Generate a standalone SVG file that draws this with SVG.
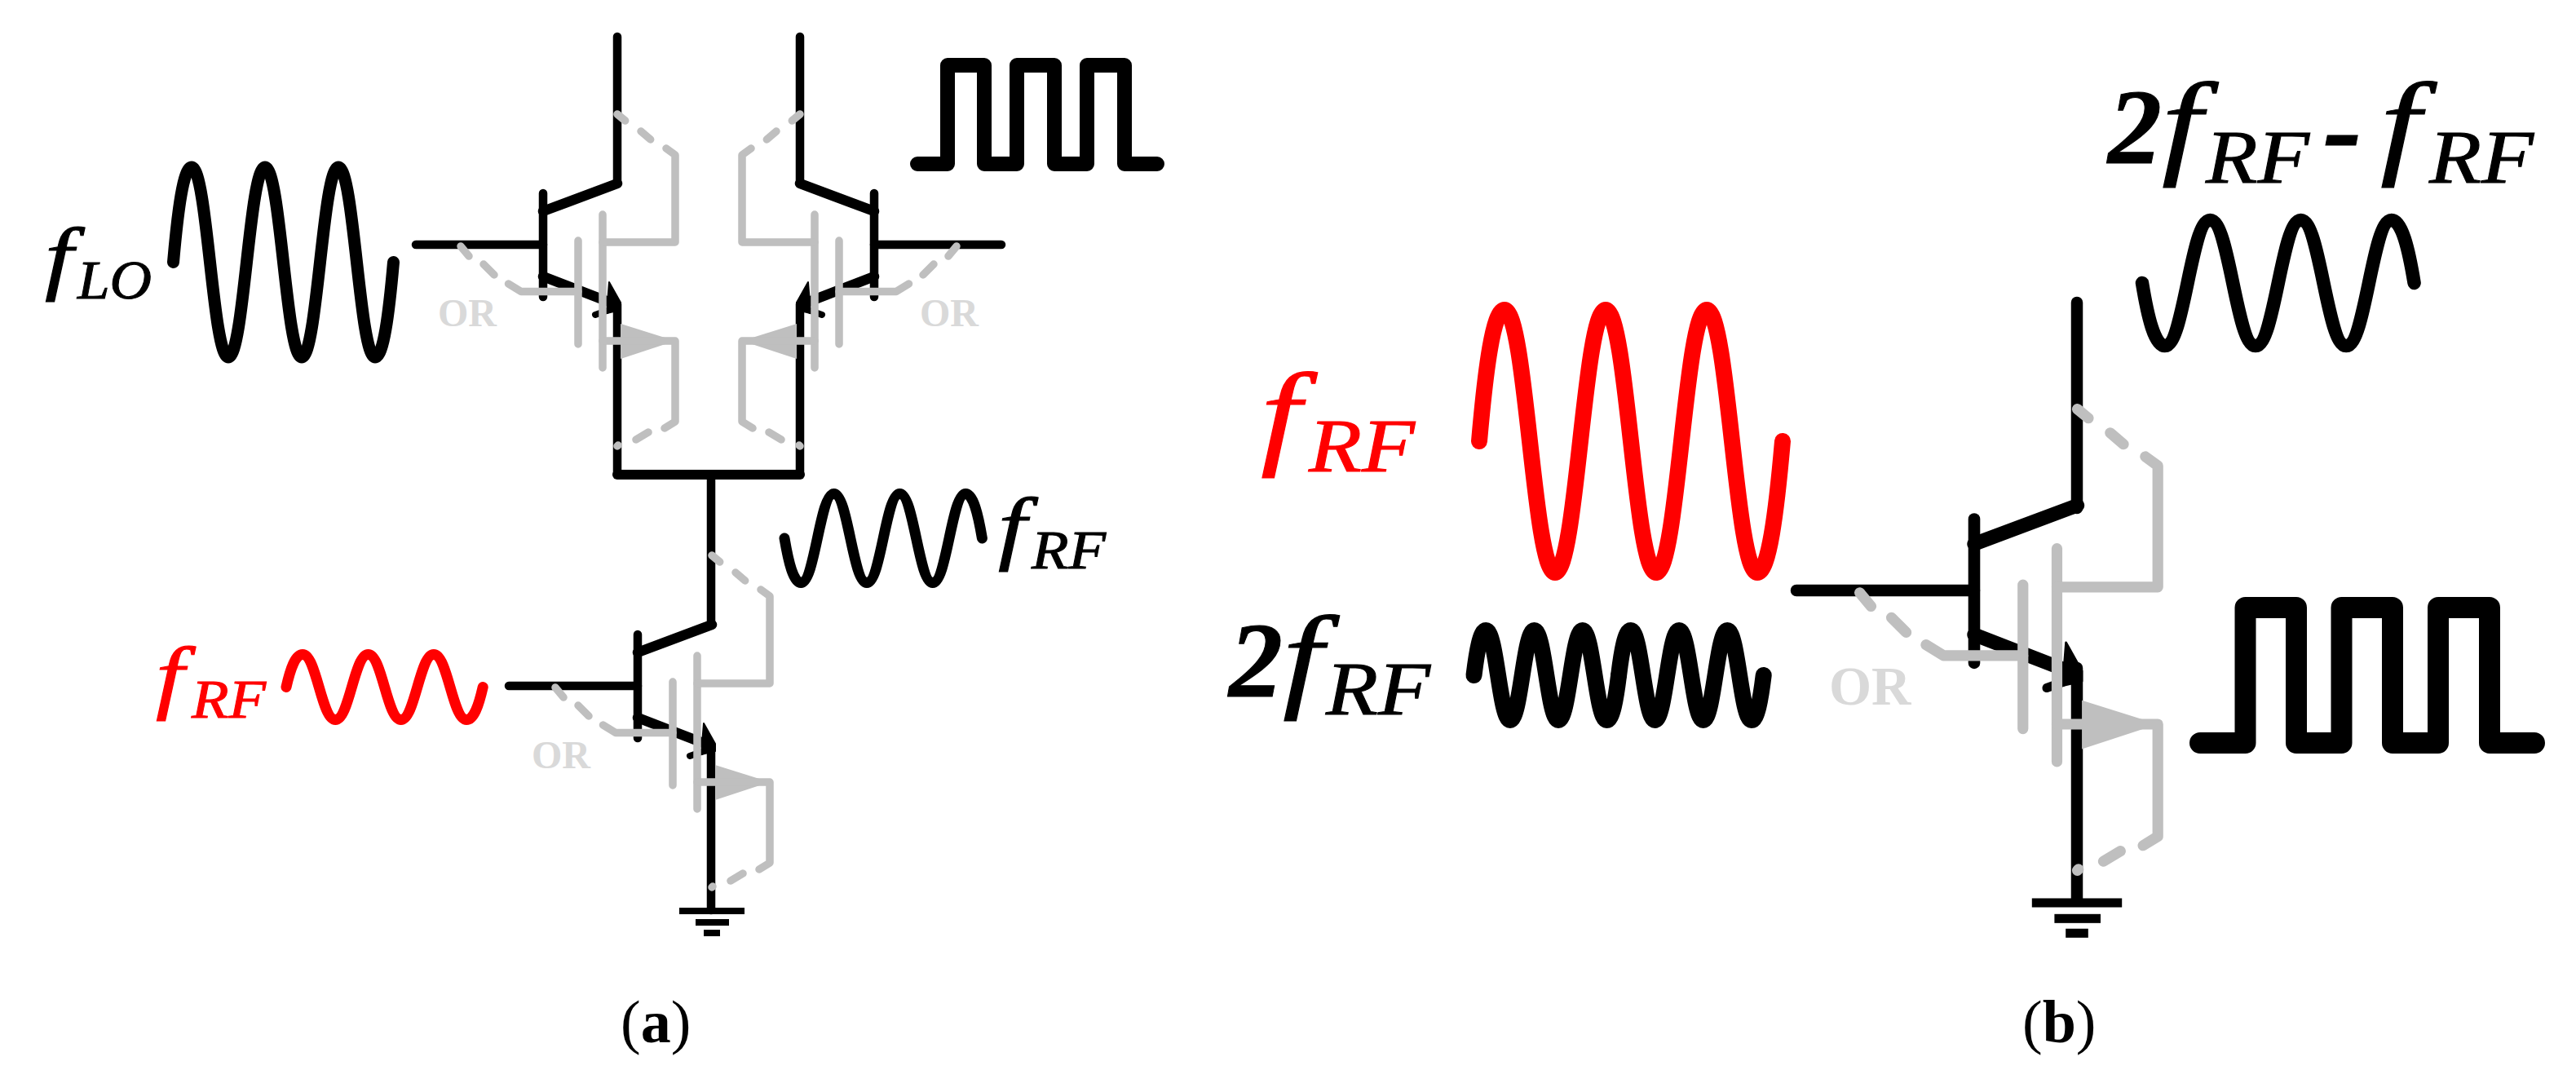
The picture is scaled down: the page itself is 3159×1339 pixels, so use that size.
<svg xmlns="http://www.w3.org/2000/svg" xmlns:xlink="http://www.w3.org/1999/xlink" width="3159" height="1339" viewBox="0 0 3159 1339">
<style>
.blk{fill:none;stroke:#000;stroke-width:10.5;stroke-linecap:round;stroke-linejoin:miter}
.gry{fill:none;stroke:#bfbfbf;stroke-width:9.5;stroke-linecap:round;stroke-linejoin:round}
.wave{fill:none;stroke-linecap:round;stroke-linejoin:round;vector-effect:non-scaling-stroke}
.sq{fill:none;stroke:#000;stroke-linecap:round;stroke-linejoin:round}
text{font-family:"Liberation Serif","Times New Roman",serif}
.it{font-style:italic;stroke-width:1}
.k{fill:#000;stroke:#000}
.r{fill:#f00;stroke:#f00}
.or{font-weight:bold;fill:#d9d9d9}
.cap{font-size:74px;fill:#000}
</style>
<defs>
<path id="wave3" class="wave" d="M0,0 C.25,-.55 .55,-1 1,-1 C1.85,-1 2.15,1 3,1 C3.85,1 4.15,-1 5,-1 C5.85,-1 6.15,1 7,1 C7.85,1 8.15,-1 9,-1 C9.85,-1 10.15,1 11,1 C11.45,1 11.75,.55 12,0"/>
<g id="device">
<path class="blk" d="M0,-63 V64"/>
<path class="blk" style="stroke-width:12.5" d="M91,-75 L0,-41 M0,39 L88,73"/>
<path d="M81,46 L95,71 L95,80 L78,84 Z" fill="#000" stroke="#000" stroke-width="2" stroke-linejoin="round"/>
<path class="blk" style="stroke-width:8" d="M64,86 L78,81"/>
<polygon points="95,97 95,140 162,118" fill="#bfbfbf"/>
<path class="gry" d="M73,-37 V151 M43,-5 V122"/>
<path class="gry" d="M73,-3 H162 V-110 L151,-118 M131.7,-129 L120,-139 M100.7,-152 L91,-160"/>
<path class="gry" d="M73,118 H162 V217 L149,225 M129,230 L114,239 M92,246 L91,247"/>
<path class="gry" d="M43,57.5 H-27 L-42.5,48 M-60,37 L-73,24 M-91,14 L-101,2"/>
</g>
<g id="gnd-a">
<rect x="-40" y="-4" width="80" height="8"/>
<rect x="-20" y="10" width="41" height="8"/>
<rect x="-10" y="23" width="20" height="8"/>
</g>
</defs>
<rect width="3159" height="1339" fill="#fff"/>

<g id="connectors">
<path class="blk" d="M757,45 V225 M757,373 V582"/>
<path class="blk" d="M981,45 V225 M981,373 V582"/>
<path class="blk" style="stroke-width:12" d="M757,582 H981"/>
<path class="blk" d="M872,582 V766 M872,914 V1116"/>
<path class="blk" d="M510,300 H666 M1228,300 H1072 M624,841 H782"/>
<path class="blk" style="stroke-width:14.5" d="M2547,371 V623 M2547,819 V1103 M2203,724 H2421"/>
</g>

<g id="transistor-q1"><use xlink:href="#device" href="#device" transform="translate(666,300)"/></g>
<g id="transistor-q2"><use xlink:href="#device" href="#device" transform="translate(1072,300) scale(-1,1)"/></g>
<g id="transistor-q3"><use xlink:href="#device" href="#device" transform="translate(782,841)"/></g>
<g id="transistor-b"><use xlink:href="#device" href="#device" transform="translate(2421,724) scale(1.39)"/></g>

<g id="or-labels">
<text class="or" x="537" y="400" font-size="48">OR</text>
<text class="or" x="1128" y="400" font-size="48">OR</text>
<text class="or" x="652" y="942" font-size="48">OR</text>
<text class="or" x="2243" y="864" font-size="67">OR</text>
</g>

<g id="ground-a"><use xlink:href="#gnd-a" href="#gnd-a" transform="translate(873,1117)"/></g>
<g id="ground-b"><use xlink:href="#gnd-a" href="#gnd-a" transform="translate(2547,1107) scale(1.38)"/></g>

<g id="wave-flo"><use href="#wave3" xlink:href="#wave3" stroke="#000" stroke-width="15" transform="translate(212.5,321.5) scale(22.5,116.5)"/></g>
<g id="wave-frf-red-a"><use href="#wave3" xlink:href="#wave3" stroke="#f00" stroke-width="13" transform="translate(351,842.5) scale(20.1,40)"/></g>
<g id="wave-frf-a"><use href="#wave3" xlink:href="#wave3" stroke="#000" stroke-width="13" transform="translate(962,660) scale(20.2,-54.5)"/></g>
<g id="wave-frf-red-b"><use href="#wave3" xlink:href="#wave3" stroke="#f00" stroke-width="20" transform="translate(1814,541) scale(31,161)"/></g>
<g id="wave-2frf-b">
<use href="#wave3" xlink:href="#wave3" stroke="#000" stroke-width="20" transform="translate(1807.5,828) scale(14.8,55)"/>
<use href="#wave3" xlink:href="#wave3" stroke="#000" stroke-width="20" transform="translate(1985.1,828) scale(14.8,55)"/>
</g>
<g id="wave-out-b"><use href="#wave3" xlink:href="#wave3" stroke="#000" stroke-width="16.5" transform="translate(2627,347) scale(27.8,-77)"/></g>

<g id="square-a"><path class="sq" stroke-width="18" d="M1125,201 H1162 V80 H1207 V201 H1247 V80 H1293 V201 H1333 V80 H1379 V201 H1419"/></g>
<g id="square-b"><path class="sq" stroke-width="26" d="M2698,911 H2753.5 V745 H2816 V911 H2871.5 V745 H2934 V911 H2990 V745 H3053 V911 H3108"/></g>

<g id="label-flo">
<text class="it k" transform="translate(55,349) scale(1.25,1)" font-size="100">f</text>
<text class="it k" x="95" y="366" font-size="68" textLength="91" lengthAdjust="spacingAndGlyphs">LO</text>
</g>
<g id="label-frf-red-a">
<text class="it r" transform="translate(191,863) scale(1.25,1)" font-size="100">f</text>
<text class="it r" x="235" y="880" font-size="68" textLength="91" lengthAdjust="spacingAndGlyphs">RF</text>
</g>
<g id="label-frf-a">
<text class="it k" transform="translate(1224,680) scale(1.25,1)" font-size="100">f</text>
<text class="it k" x="1265" y="697" font-size="68" textLength="91" lengthAdjust="spacingAndGlyphs">RF</text>
</g>
<g id="label-frf-red-b">
<text class="it r" transform="translate(1546,556) scale(1.25,1)" font-size="142">f</text>
<text class="it r" x="1605" y="578" font-size="94" textLength="130" lengthAdjust="spacingAndGlyphs">RF</text>
</g>
<g id="label-2frf-b">
<text class="it k" x="1507" y="854" font-size="132" font-weight="bold">2</text>
<text class="it k" transform="translate(1573,854) scale(1.25,1)" font-size="142">f</text>
<text class="it k" x="1626" y="876" font-size="94" textLength="128" lengthAdjust="spacingAndGlyphs">RF</text>
</g>
<g id="label-out-b">
<text class="it k" x="2585" y="200" font-size="132" font-weight="bold">2</text>
<text class="it k" transform="translate(2651,200) scale(1.25,1)" font-size="142">f</text>
<text class="it k" x="2705" y="224" font-size="94" textLength="127" lengthAdjust="spacingAndGlyphs">RF</text>
<text class="it k" x="2849" y="205" font-size="142" font-weight="bold">-</text>
<text class="it k" transform="translate(2919,200) scale(1.25,1)" font-size="142">f</text>
<text class="it k" x="2979" y="224" font-size="94" textLength="128" lengthAdjust="spacingAndGlyphs">RF</text>
</g>

<g id="caption-a"><text class="cap" x="761" y="1278">(<tspan font-weight="bold">a</tspan>)</text></g>
<g id="caption-b"><text class="cap" x="2480" y="1278">(<tspan font-weight="bold">b</tspan>)</text></g>
</svg>
